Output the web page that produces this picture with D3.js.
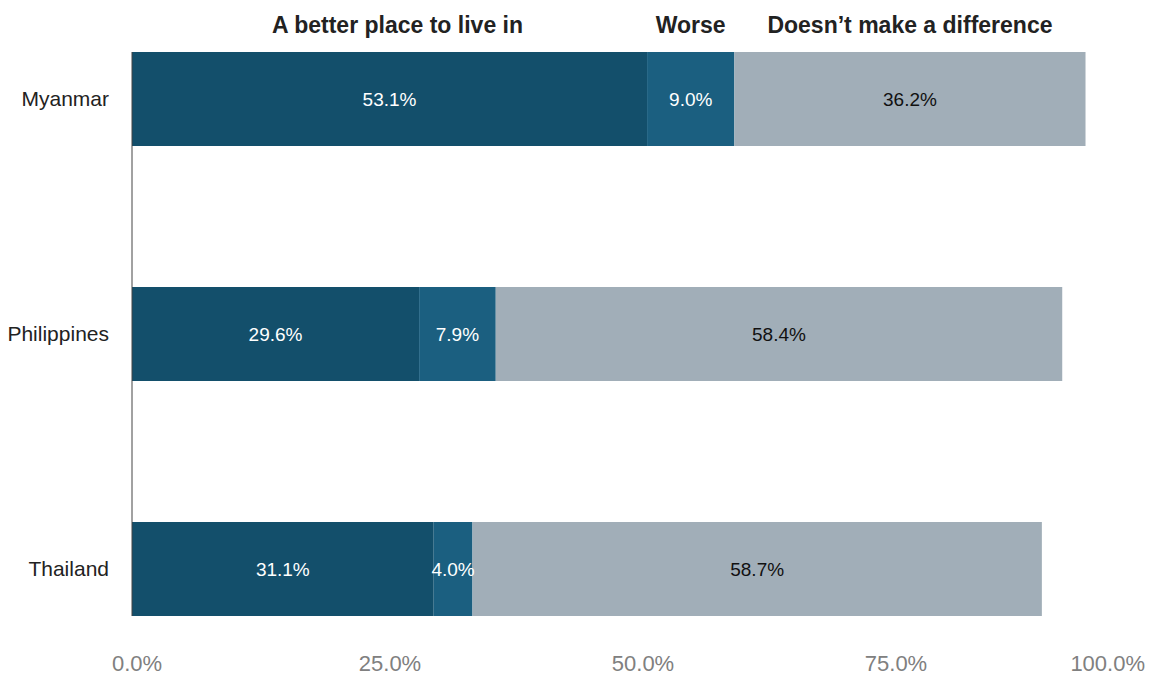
<!DOCTYPE html>
<meta charset="utf-8">
<head>
    <style>
        body { margin: 0; background: #fff; }
        text { font-family: "Liberation Sans", Arial, sans-serif; }
        .cat text { font-size: 21px; fill: #222; }
        .vals text { font-size: 19px; }
        .heads text { font-size: 23px; font-weight: bold; fill: #222; }
        .ticks text { font-size: 22px; fill: #808080; }
    </style>
</head>
<body>
    <svg width="1150" height="675"></svg>
</body>
<script src="https://d3js.org/d3.v7.min.js"></script>
<script>

    var countries = ["Myanmar", "Philippines", "Thailand"];
    var series = ["A better place to live in", "Worse", "Doesn\u2019t make a difference"];
    var better = [53.1, 29.6, 31.1];
    var worse = [9.0, 7.9, 4.0];
    var noDiff = [36.2, 58.4, 58.7];
    var tickValues = [0, 25, 50, 75, 100];
    var colors = ["#134f6b", "#1b5f80", "#a1aeb8"];
    var textColors = ["#fff", "#fff", "#111"];

    var svg = d3.select("svg"),
        width = +svg.attr("width"),
        height = +svg.attr("height");

    var rows = countries.map(function (c, i) {
        return { country: c, better: better[i], worse: worse[i], noDiff: noDiff[i] };
    });
    var keys = ["better", "worse", "noDiff"];
    var stacked = d3.stack().keys(keys)(rows);

    var x = d3.scaleLinear().domain([0, 100]).range([132, 1102]);
    // tick labels in the source sit on their own, slightly wider spacing
    var xLab = d3.scaleLinear().domain([0, 100]).range([137, 1149]);
    var y = d3.scaleBand().domain(countries).range([52, 616]).paddingInner(0.6).paddingOuter(0);

    var layers = svg.append("g").selectAll("g")
        .data(stacked)
        .enter().append("g")
        .attr("fill", function (d, i) { return colors[i]; });

    layers.selectAll("rect")
        .data(function (d) { return d; })
        .enter().append("rect")
        .attr("x", function (d) { return x(d[0]); })
        .attr("y", function (d) { return y(d.data.country); })
        .attr("width", function (d) { return x(d[1]) - x(d[0]); })
        .attr("height", y.bandwidth());

    var vals = svg.append("g").attr("class", "vals");
    stacked.forEach(function (layer, i) {
        vals.selectAll(null)
            .data(layer)
            .enter().append("text")
            .attr("x", function (d) { return x((d[0] + d[1]) / 2); })
            .attr("y", function (d) { return y(d.data.country) + y.bandwidth() / 2; })
            .attr("dy", "0.35em")
            .attr("text-anchor", "middle")
            .attr("fill", textColors[i])
            .text(function (d) { return (d[1] - d[0]).toFixed(1) + "%"; });
    });

    // left axis line
    svg.append("line")
        .attr("x1", x(0)).attr("x2", x(0))
        .attr("y1", y(countries[0]))
        .attr("y2", y(countries[countries.length - 1]) + y.bandwidth())
        .attr("stroke", "#444")
        .attr("stroke-width", 1);

    svg.append("g").attr("class", "cat")
        .selectAll("text")
        .data(countries)
        .enter().append("text")
        .attr("x", 109)
        .attr("y", function (d) { return y(d) + y.bandwidth() / 2; })
        .attr("dy", "0.35em")
        .attr("text-anchor", "end")
        .text(function (d) { return d; });

    // series headers sit over the first bar's segments
    svg.append("g").attr("class", "heads")
        .selectAll("text")
        .data(stacked)
        .enter().append("text")
        .attr("x", function (d, i) { return x((d[0][0] + d[0][1]) / 2) + (i === 0 ? 8 : 0); })
        .attr("y", 33)
        .attr("text-anchor", "middle")
        .text(function (d, i) { return series[i]; });

    svg.append("g").attr("class", "ticks")
        .selectAll("text")
        .data(tickValues)
        .enter().append("text")
        .attr("x", function (d) { return d === 100 ? width - 5 : xLab(d); })
        .attr("y", 671)
        .attr("text-anchor", function (d) { return d === 100 ? "end" : "middle"; })
        .text(function (d) { return d.toFixed(1) + "%"; });

</script>
